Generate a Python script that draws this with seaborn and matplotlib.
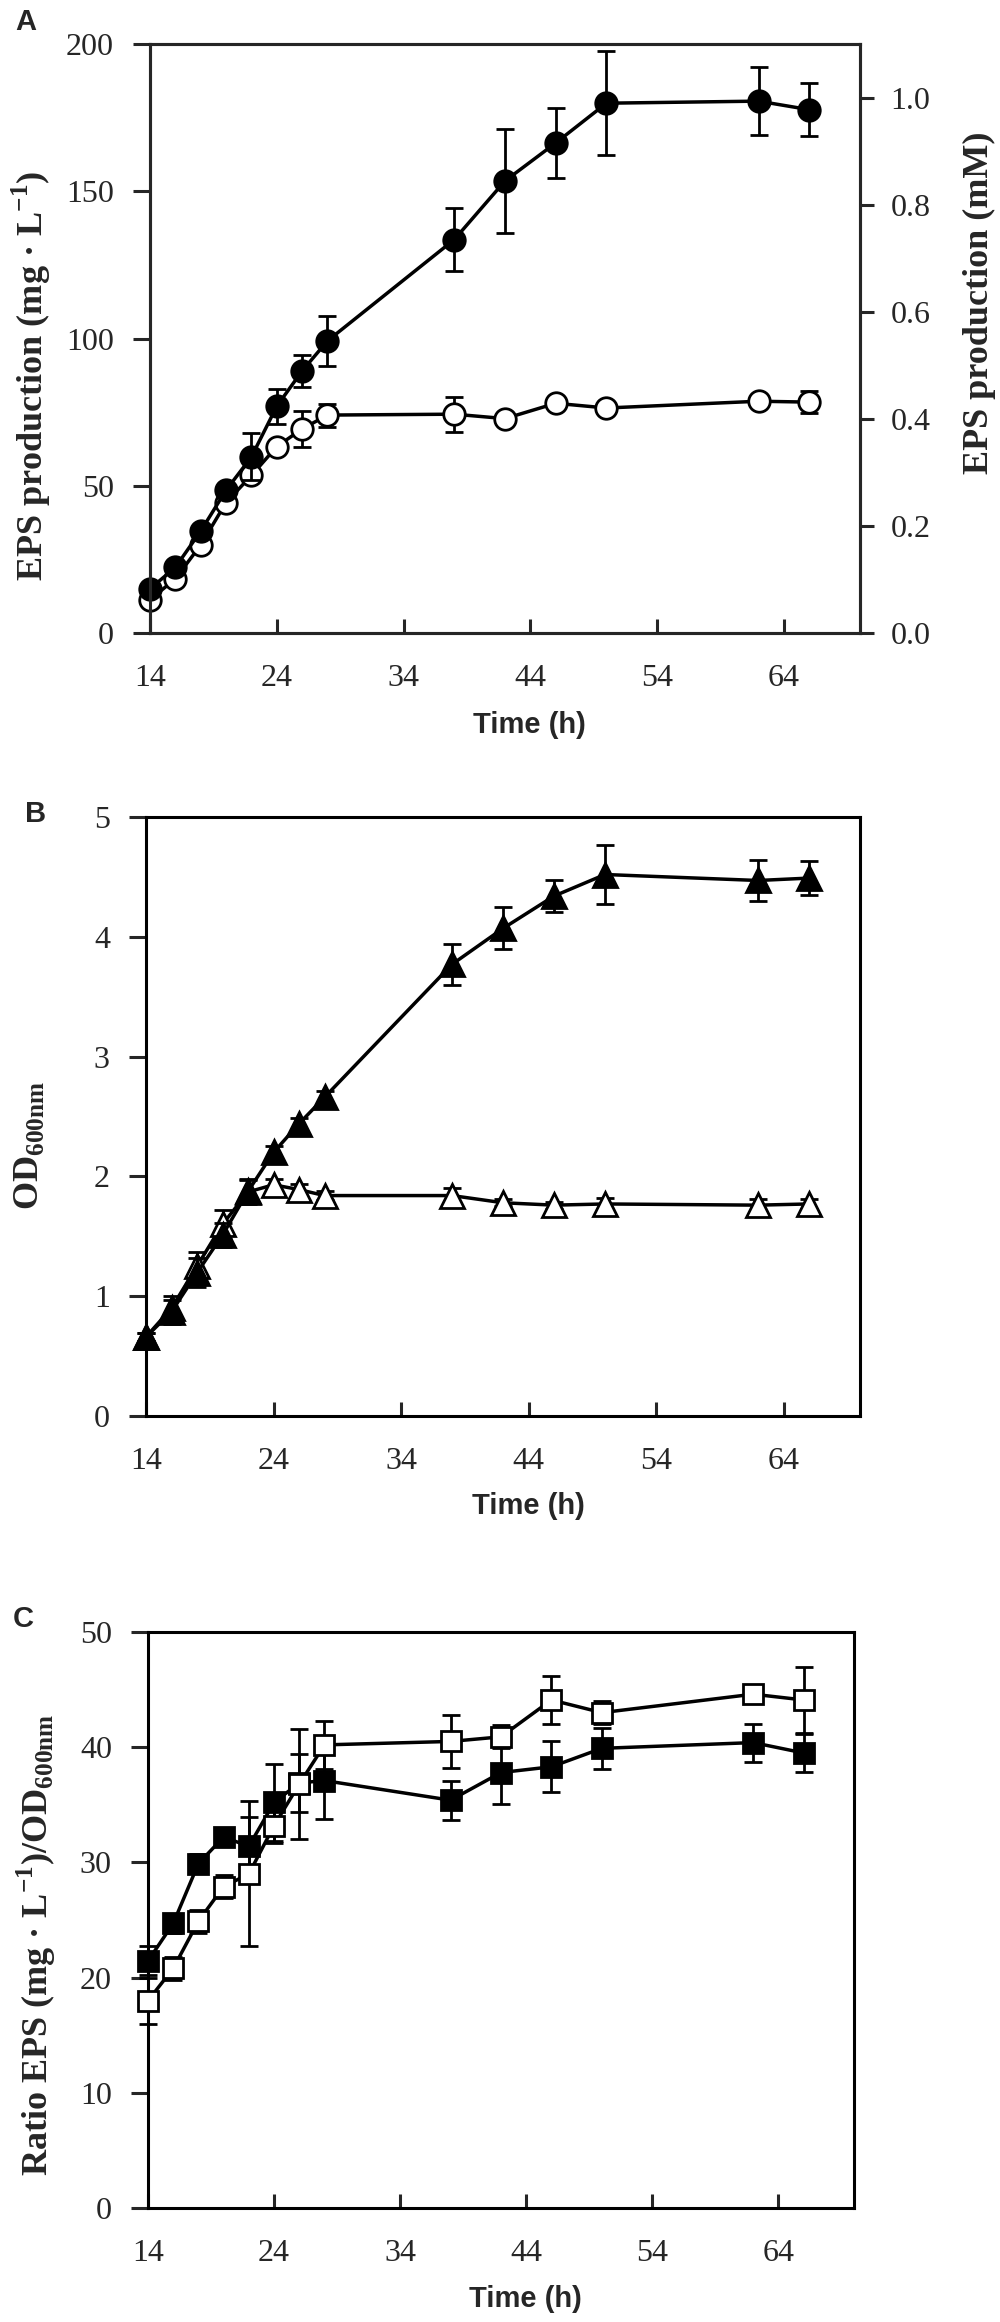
import numpy as np
import pandas as pd
import seaborn as sns
import matplotlib.pyplot as plt

# sampling times (h)
time = [14, 16, 18, 20, 22, 24, 26, 28, 38, 42, 46, 50, 62, 66]

# A - EPS production (mg/L)
eps_filled = [15.0, 22.3, 34.6, 48.5, 59.8, 77.0, 89.0, 99.2, 133.6, 153.5, 166.4, 179.9, 180.6, 177.7]
eps_filled_sd = [1.5, 1.5, 2.0, 2.0, 8.0, 6.0, 5.5, 8.6, 10.6, 17.8, 12.0, 17.7, 11.5, 9.0]
eps_open = [11.3, 18.4, 29.9, 44.3, 53.5, 63.3, 69.3, 74.0, 74.3, 72.8, 78.0, 76.4, 78.7, 78.4]
eps_open_sd = [1.0, 1.0, 1.5, 2.0, 2.0, 2.0, 6.0, 3.9, 5.9, 1.5, 1.5, 1.5, 1.5, 3.7]

# B - OD600
od_filled = [0.66, 0.87, 1.195, 1.51, 1.875, 2.2, 2.44, 2.66, 3.77, 4.07, 4.34, 4.52, 4.47, 4.49]
od_filled_sd = [0.03, 0.1, 0.12, 0.1, 0.1, 0.05, 0.05, 0.05, 0.17, 0.175, 0.135, 0.245, 0.175, 0.14]
od_open = [0.66, 0.9, 1.25, 1.6, 1.87, 1.93, 1.89, 1.84, 1.84, 1.78, 1.76, 1.77, 1.76, 1.77]
od_open_sd = [0.03, 0.1, 0.12, 0.12, 0.1, 0.05, 0.05, 0.04, 0.06, 0.03, 0.03, 0.05, 0.05, 0.04]

# C - ratio EPS/OD
ratio_filled = [21.45, 24.7, 29.9, 32.2, 31.4, 35.2, 36.9, 37.1, 35.4, 37.8, 38.3, 39.9, 40.4, 39.5]
ratio_filled_sd = [1.25, 0.8, 0.8, 0.8, 2.5, 3.3, 2.5, 3.3, 1.7, 2.7, 2.2, 1.75, 1.65, 1.65]
ratio_open = [18.0, 20.8, 24.9, 27.9, 29.0, 33.2, 36.8, 40.2, 40.5, 40.9, 44.1, 43.0, 44.6, 44.1]
ratio_open_sd = [2.0, 1.0, 1.0, 1.0, 6.3, 1.5, 4.8, 2.1, 2.3, 1.0, 2.05, 1.0, 0.8, 2.9]

sns.set_style("ticks")
plt.rcParams['font.family'] = ['Liberation Serif', 'DejaVu Serif']
plt.rcParams['mathtext.fontset'] = 'custom'
plt.rcParams['mathtext.rm'] = 'Liberation Serif:bold'
plt.rcParams['mathtext.bf'] = 'Liberation Serif:bold'
plt.rcParams['axes.linewidth'] = 2.2

fig = plt.figure(figsize=(10, 23.22), dpi=100)

ax_a = fig.add_axes([0.150, 0.72739, 0.710, 0.25366])
ax_b = fig.add_axes([0.146, 0.39018, 0.714, 0.25797])
ax_c = fig.add_axes([0.148, 0.04910, 0.706, 0.24806])


def draw_series(ax, y, sd, marker, face, ms, z):
    df = pd.DataFrame({"time": time, "value": y})
    ax.errorbar(time, y, yerr=sd, fmt="none", ecolor="black", elinewidth=2,
                capsize=6.5, capthick=2, zorder=z, clip_on=False)
    sns.lineplot(data=df, x="time", y="value", ax=ax, color="black",
                 linewidth=2.5, marker=marker, markersize=ms,
                 markerfacecolor=face, markeredgecolor="black",
                 markeredgewidth=2, errorbar=None, zorder=z + 0.5,
                 clip_on=False)


draw_series(ax_a, eps_open, eps_open_sd, "o", "white", 15.5, 3)
draw_series(ax_a, eps_filled, eps_filled_sd, "o", "black", 15.5, 4)

draw_series(ax_b, od_open, od_open_sd, "^", "white", 17, 3)
draw_series(ax_b, od_filled, od_filled_sd, "^", "black", 17, 4)

draw_series(ax_c, ratio_filled, ratio_filled_sd, "s", "black", 14.5, 3)
draw_series(ax_c, ratio_open, ratio_open_sd, "s", "white", 14.5, 4)

time_font = dict(family=['Liberation Sans Narrow', 'Liberation Sans'], weight='bold', size=21)
ylab_font = dict(family='Liberation Serif', weight='bold', size=26)

panels = [
    (ax_a, (0, 200), np.arange(0, 201, 50), r"EPS production (mg · L$^{\mathbf{-1}}$)", (-0.137, 0.436), -0.132),
    (ax_b, (0, 5), np.arange(0, 6, 1), r"OD$_{\mathbf{600nm}}$", (-0.14, 0.452), -0.127),
    (ax_c, (0, 50), np.arange(0, 51, 10), r"Ratio EPS (mg · L$^{\mathbf{-1}}$)/OD$_{\mathbf{600nm}}$", (-0.128, 0.457), -0.134),
]

for ax, ylim, yticks, ylab, ylpos, xly in panels:
    ax.set_xlim(14, 70)
    ax.set_ylim(*ylim)
    ax.set_xticks([14, 24, 34, 44, 54, 64])
    ax.set_yticks(yticks)
    ax.tick_params(axis="x", direction="in", length=10, width=2.2, pad=22, labelsize=23)
    ax.tick_params(axis="y", direction="out", length=12, width=2.2, pad=14, labelsize=23)
    ax.set_xlabel("Time (h)", **time_font)
    ax.xaxis.set_label_coords(0.535, xly)
    ax.set_ylabel(ylab, **ylab_font)
    ax.yaxis.set_label_coords(*ylpos)
    for s in ax.spines.values():
        s.set_visible(True)
        s.set_linewidth(2.2)
        s.set_color("black")

# right axis for mM
ax_r = ax_a.twinx()
ax_r.set_ylim(0, 1.1)
ax_r.set_yticks(np.arange(0, 1.01, 0.2))
ax_r.set_yticklabels(["%.1f" % v for v in np.arange(0, 1.01, 0.2)])
ax_r.tick_params(axis="y", direction="out", length=10, width=2.2, pad=12, labelsize=23)
ax_r.set_ylabel("EPS production (mM)", **ylab_font)
ax_r.yaxis.set_label_coords(1.145, 0.56)
for s in ax_r.spines.values():
    s.set_linewidth(2.2)

letter_font = dict(family='Liberation Sans', weight='bold', size=21, va='top', ha='left')
fig.text(0.015, 1 - 8 / 2322, "A", **letter_font)
fig.text(0.025, 1 - 800 / 2322, "B", **letter_font)
fig.text(0.013, 1 - 1605 / 2322, "C", **letter_font)

fig.savefig("out.png", dpi=100, facecolor="white")
